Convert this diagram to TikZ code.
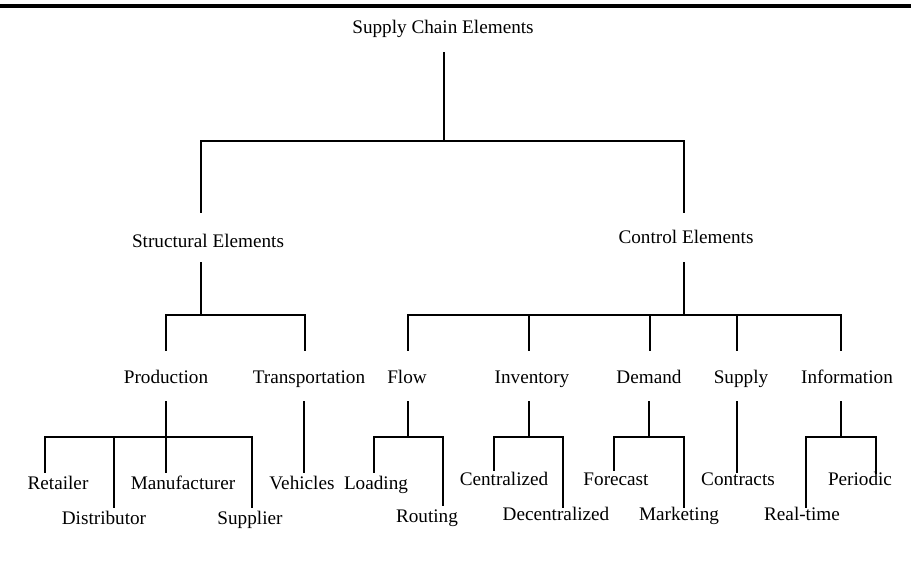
\documentclass[tikz,border=0pt]{standalone}
\usepackage{fontspec}
\setmainfont{Liberation Serif}
\begin{document}
\begin{tikzpicture}[x=0.75pt,y=-0.75pt,
  line width=1.1pt, line cap=rect,
  lbl/.style={font=\fontsize{14.4}{17}\selectfont, inner sep=0pt, anchor=base}]
\useasboundingbox (0,0) rectangle (911,583);
% heading rule
\fill (0,4) rectangle (911,7.5);

% ---- labels ----
\node[lbl] (sce) at (443,33) {Supply Chain Elements};
\node[lbl] (se) at (208,247) {Structural Elements};
\node[lbl] (ce) at (686,243) {Control Elements};

\node[lbl] (prod) at (166,383) {Production};
\node[lbl] (trans) at (309,383) {Transportation};
\node[lbl] (flow) at (407,383) {Flow};
\node[lbl] (inv) at (532,383) {Inventory};
\node[lbl] (dem) at (649,383) {Demand};
\node[lbl] (sup) at (741,383) {Supply};
\node[lbl] (info) at (847,383) {Information};

\node[lbl] (ret) at (58,489) {Retailer};
\node[lbl] (dist) at (104,524) {Distributor};
\node[lbl] (manu) at (183,489) {Manufacturer};
\node[lbl] (suppl) at (250,524) {Supplier};
\node[lbl] (veh) at (302,489) {Vehicles};
\node[lbl] (load) at (376,489) {Loading};
\node[lbl] (rout) at (427,522) {Routing};
\node[lbl] (cent) at (504,485) {Centralized};
\node[lbl] (dec) at (556,520) {Decentralized};
\node[lbl] (fore) at (616,485) {Forecast};
\node[lbl] (mark) at (679,520) {Marketing};
\node[lbl] (contr) at (738,485) {Contracts};
\node[lbl] (per) at (860,485) {Periodic};
\node[lbl] (real) at (802,520) {Real-time};

% ---- top level ----
\coordinate (sce-s) at (444,53);
\coordinate (sce-j) at (444,141);
\coordinate (se-j) at (201,141);
\coordinate (se-n) at (201,212);
\coordinate (ce-j) at (684,141);
\coordinate (ce-n) at (684,212);
\draw (sce-s) -- (sce-j);
\draw (se-n) -- (se-j) -- (ce-j) -- (ce-n);

% ---- structural elements ----
\coordinate (se-s) at (201,263);
\coordinate (se-b) at (201,315);
\coordinate (prod-j) at (166,315);
\coordinate (prod-n) at (166,350);
\coordinate (trans-j) at (305,315);
\coordinate (trans-n) at (305,350);
\draw (se-s) -- (se-b);
\draw (prod-n) -- (prod-j) -- (trans-j) -- (trans-n);

% ---- control elements ----
\coordinate (ce-s) at (684,263);
\coordinate (ce-b) at (684,315);
\coordinate (flow-j) at (408,315);
\coordinate (flow-n) at (408,350);
\coordinate (inv-j) at (529,315);
\coordinate (inv-n) at (529,350);
\coordinate (dem-j) at (650,315);
\coordinate (dem-n) at (650,350);
\coordinate (sup-j) at (737,315);
\coordinate (sup-n) at (737,350);
\coordinate (info-j) at (841,315);
\coordinate (info-n) at (841,350);
\draw (ce-s) -- (ce-b);
\draw (flow-n) -- (flow-j) -- (info-j) -- (info-n);
\draw (inv-j) -- (inv-n);
\draw (dem-j) -- (dem-n);
\draw (sup-j) -- (sup-n);

% ---- production ----
\coordinate (prod-s) at (166,402);
\coordinate (prod-b) at (166,437);
\coordinate (ret-j) at (45,437);
\coordinate (ret-n) at (45,472);
\coordinate (dist-j) at (114,437);
\coordinate (dist-n) at (114,507);
\coordinate (manu-n) at (166,472);
\coordinate (suppl-j) at (252,437);
\coordinate (suppl-n) at (252,507);
\draw (prod-s) -- (manu-n);
\draw (ret-n) -- (ret-j) -- (suppl-j) -- (suppl-n);
\draw (dist-j) -- (dist-n);

% ---- transportation ----
\coordinate (trans-s) at (304,402);
\coordinate (veh-n) at (304,472);
\draw (trans-s) -- (veh-n);

% ---- flow ----
\coordinate (flow-s) at (408,402);
\coordinate (flow-b) at (408,437);
\coordinate (load-j) at (374,437);
\coordinate (load-n) at (374,472);
\coordinate (rout-j) at (443,437);
\coordinate (rout-n) at (443,505);
\draw (flow-s) -- (flow-b);
\draw (load-n) -- (load-j) -- (rout-j) -- (rout-n);

% ---- inventory ----
\coordinate (inv-s) at (529,402);
\coordinate (inv-b) at (529,437);
\coordinate (cent-j) at (494,437);
\coordinate (cent-n) at (494,470);
\coordinate (dec-j) at (563,437);
\coordinate (dec-n) at (563,507);
\draw (inv-s) -- (inv-b);
\draw (cent-n) -- (cent-j) -- (dec-j) -- (dec-n);

% ---- demand ----
\coordinate (dem-s) at (649,402);
\coordinate (dem-b) at (649,437);
\coordinate (fore-j) at (614,437);
\coordinate (fore-n) at (614,470);
\coordinate (mark-j) at (684,437);
\coordinate (mark-n) at (684,507);
\draw (dem-s) -- (dem-b);
\draw (fore-n) -- (fore-j) -- (mark-j) -- (mark-n);

% ---- supply ----
\coordinate (sup-s) at (737,402);
\coordinate (contr-n) at (737,472);
\draw (sup-s) -- (contr-n);

% ---- information ----
\coordinate (info-s) at (841,402);
\coordinate (info-b) at (841,437);
\coordinate (real-j) at (806,437);
\coordinate (real-n) at (806,507);
\coordinate (per-j) at (876,437);
\coordinate (per-n) at (876,473);
\draw (info-s) -- (info-b);
\draw (real-n) -- (real-j) -- (per-j) -- (per-n);
\end{tikzpicture}
\end{document}
